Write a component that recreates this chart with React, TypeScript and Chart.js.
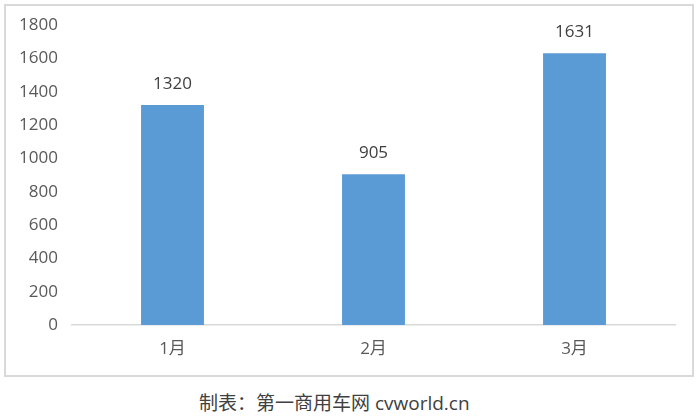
import React, { useEffect, useRef } from "react";
import { Chart, registerables } from "chart.js";

Chart.register(...registerables);

const categories = ["1月", "2月", "3月"];
const salesValues = [1320, 905, 1631];
const yMin = 0;
const yMax = 1800;
const yStep = 200;
const captionText = "制表：第一商用车网 cvworld.cn";

const FONT = "'Open Sans', 'Noto Sans CJK SC', sans-serif";

const valueLabelPlugin = {
  id: "valueLabels",
  afterDatasetsDraw(chart: any) {
    const ctx = chart.ctx;
    const meta = chart.getDatasetMeta(0);
    const data = chart.data.datasets[0].data as number[];
    ctx.save();
    ctx.font = `17px ${FONT}`;
    ctx.fillStyle = "#404040";
    ctx.textAlign = "center";
    ctx.textBaseline = "middle";
    meta.data.forEach((bar: any, i: number) => {
      ctx.fillText(String(data[i]), bar.x, bar.y - 21);
    });
    ctx.restore();
  },
};

export default function App() {
  const canvasRef = useRef<HTMLCanvasElement | null>(null);

  useEffect(() => {
    if (!canvasRef.current) return;
    const chart = new Chart(canvasRef.current, {
      type: "bar",
      data: {
        labels: categories,
        datasets: [
          {
            data: salesValues,
            backgroundColor: "#5b9bd5",
            borderWidth: 0,
            barPercentage: 0.313,
            categoryPercentage: 1,
          },
        ],
      },
      options: {
        animation: false,
        responsive: false,
        maintainAspectRatio: false,
        layout: { padding: { top: 25, right: 25, left: 0, bottom: 0 } },
        plugins: {
          legend: { display: false },
          tooltip: { enabled: false },
        },
        scales: {
          x: {
            grid: { display: false, drawTicks: false },
            border: { display: true, color: "#d9d9d9", width: 1.5 },
            ticks: {
              color: "#595959",
              font: { family: FONT, size: 17 },
              padding: 14,
            },
            afterFit(scale: any) {
              scale.height = 55;
            },
          },
          y: {
            min: yMin,
            max: yMax,
            grid: { display: false, drawTicks: false },
            border: { display: false },
            ticks: {
              stepSize: yStep,
              color: "#595959",
              font: { family: FONT, size: 17 },
              padding: 14,
              callback: (value: any) => String(value),
            },
            afterFit(scale: any) {
              scale.width = 72;
            },
          },
        },
      },
      plugins: [valueLabelPlugin],
    });
    return () => chart.destroy();
  }, []);

  return (
    <div
      style={{
        position: "fixed",
        left: 0,
        top: 0,
        width: 700,
        height: 416,
        background: "#ffffff",
        overflow: "hidden",
      }}
    >
      <div
        style={{
          position: "absolute",
          left: 4,
          top: 4,
          width: 690,
          height: 373,
          border: "2px solid #d9d9d9",
          boxSizing: "border-box",
        }}
      />
      <canvas
        ref={canvasRef}
        width={700}
        height={380}
        style={{ position: "absolute", left: 0, top: 0, width: 700, height: 380 }}
      />
      <div
        style={{
          position: "absolute",
          left: 199,
          top: 391,
          fontFamily: FONT,
          fontSize: 19,
          lineHeight: "24px",
          color: "#404040",
          whiteSpace: "nowrap",
        }}
      >
        {captionText}
      </div>
    </div>
  );
}
